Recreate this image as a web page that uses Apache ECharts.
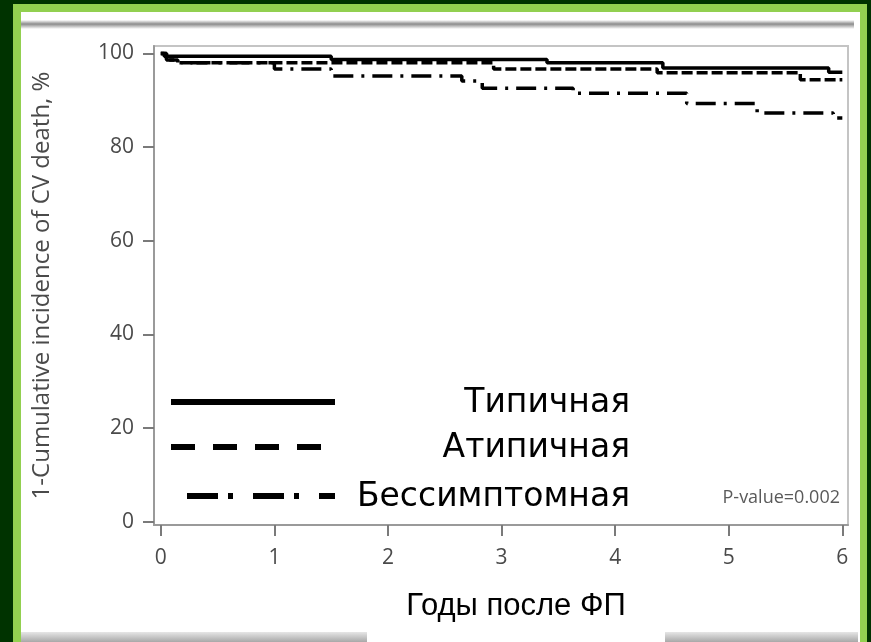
<!DOCTYPE html>
<html>
<head>
<meta charset="utf-8">
<script src="https://cdn.jsdelivr.net/npm/echarts@6/dist/echarts.min.js"></script>
<style>
  html, body { margin: 0; padding: 0; background: #003300; }
  #chart { width: 871px; height: 642px; }
</style>
</head>
<body>
<div id="chart"></div>
<script>
// ticks
const xTicks = [0, 1, 2, 3, 4, 5, 6];
const yTicks = [0, 20, 40, 60, 80, 100];

// Kaplan-Meier steps (years, %)
const typTime = [0, 0.03, 1.5, 3.4, 4.42, 5.88, 6.0];
const typSurv = [100, 99.4, 98.7, 98.0, 96.9, 96.0, 96.0];
const atypTime = [0, 0.05, 0.15, 2.93, 4.37, 5.63, 6.0];
const atypSurv = [100, 98.6, 98.0, 96.7, 95.9, 94.4, 94.4];
const asymTime = [0, 0.05, 0.15, 1.0, 1.5, 2.65, 2.83, 3.63, 4.63, 5.25, 5.92, 6.0];
const asymSurv = [100, 98.6, 98.0, 96.7, 95.2, 94.1, 92.6, 91.5, 89.3, 87.3, 86.2, 86.2];

const groupNames = ["Типичная", "Атипичная", "Бессимптомная"];

function pairs(t, s) {
  return t.map((v, i) => [v, s[i]]);
}

const chart = echarts.init(document.getElementById("chart"));

const labelFont = "Open Sans";
const legendFont = "DejaVu Sans";

let option = {
  backgroundColor: "#003300",
  animation: false,
  grid: {
    left: 154,
    right: 23,
    top: 46,
    bottom: 117,
    show: true,
    borderColor: "#c4c4c4",
    borderWidth: 2,
    backgroundColor: "transparent"
  },
  xAxis: {
    type: "value",
    min: -0.06,
    max: 6.05,
    axisLine: { show: true, onZero: false, lineStyle: { color: "#9a9a9a", width: 2 } },
    axisTick: { show: true, customValues: xTicks, length: 11, lineStyle: { color: "#7a7a7a", width: 2 } },
    axisLabel: { customValues: xTicks, margin: 23, color: "#4a4a4a", fontSize: 21, fontFamily: labelFont },
    splitLine: { show: false }
  },
  yAxis: {
    type: "value",
    min: -0.7,
    max: 101.6,
    name: "1-Cumulative incidence of CV death, %",
    nameLocation: "middle",
    nameGap: 100,
    nameTextStyle: { color: "#4a4a4a", fontSize: 24, fontFamily: labelFont },
    axisLine: { show: true, onZero: false, lineStyle: { color: "#9a9a9a", width: 2 } },
    axisTick: { show: true, customValues: yTicks, length: 11, lineStyle: { color: "#7a7a7a", width: 2 } },
    axisLabel: { customValues: yTicks, margin: 20, color: "#4a4a4a", fontSize: 21, fontFamily: labelFont },
    splitLine: { show: false }
  },
  series: [
    {
      name: groupNames[0],
      type: "line",
      step: "end",
      showSymbol: false,
      lineStyle: { color: "#000", width: 3.5, type: "solid" },
      data: pairs(typTime, typSurv)
    },
    {
      name: groupNames[1],
      type: "line",
      step: "end",
      showSymbol: false,
      lineStyle: { color: "#000", width: 3.5, type: [11, 4] },
      data: pairs(atypTime, atypSurv)
    },
    {
      name: groupNames[2],
      type: "line",
      step: "end",
      showSymbol: false,
      lineStyle: { color: "#000", width: 3.5, type: [20, 8, 3, 8] },
      data: pairs(asymTime, asymSurv)
    }
  ],
  graphic: [
    // frame: light green border and white page
    { type: "rect", z: -20, shape: { x: 13, y: 4, width: 854, height: 638 }, style: { fill: "#92d050" } },
    { type: "rect", z: -19, shape: { x: 21, y: 12, width: 839, height: 630 }, style: { fill: "#fff" } },
    {
      type: "rect", z: -18, shape: { x: 21, y: 20, width: 833, height: 9 },
      style: {
        fill: new echarts.graphic.LinearGradient(0, 0, 0, 1, [
          { offset: 0, color: "#ffffff" },
          { offset: 0.45, color: "#8c8c8c" },
          { offset: 1, color: "#ffffff" }
        ])
      }
    },
    {
      type: "rect", z: -18, shape: { x: 21, y: 632, width: 837, height: 10 },
      style: {
        fill: new echarts.graphic.LinearGradient(0, 0, 0, 1, [
          { offset: 0, color: "#e6e6e6" },
          { offset: 1, color: "#a8a8a8" }
        ])
      }
    },
    // white box behind the x caption
    { type: "rect", z: 5, shape: { x: 367, y: 588, width: 298, height: 54 }, style: { fill: "#fff" } },
    {
      type: "text", z: 6, x: 516, y: 606,
      style: { text: "Годы после ФП", fill: "#000", font: "31px 'Liberation Sans'", textAlign: "center", textVerticalAlign: "middle" }
    },
    // legend box
    { type: "rect", z: 5, shape: { x: 157, y: 372, width: 491, height: 148 }, style: { fill: "#fff" } },
    { type: "line", z: 6, shape: { x1: 171, y1: 402, x2: 335, y2: 402 }, style: { stroke: "#000", lineWidth: 6 } },
    { type: "line", z: 6, shape: { x1: 171, y1: 447, x2: 322, y2: 447 }, style: { stroke: "#000", lineWidth: 6, lineDash: [24, 18] } },
    { type: "line", z: 6, shape: { x1: 187, y1: 496, x2: 335, y2: 496 }, style: { stroke: "#000", lineWidth: 6, lineDash: [31, 10, 5, 20] } },
    {
      type: "text", z: 6, x: 630, y: 403,
      style: { text: groupNames[0], fill: "#000", font: "33px '" + legendFont + "'", textAlign: "right", textVerticalAlign: "middle" }
    },
    {
      type: "text", z: 6, x: 630, y: 448,
      style: { text: groupNames[1], fill: "#000", font: "33px '" + legendFont + "'", textAlign: "right", textVerticalAlign: "middle" }
    },
    {
      type: "text", z: 6, x: 630, y: 497,
      style: { text: groupNames[2], fill: "#000", font: "33px '" + legendFont + "'", textAlign: "right", textVerticalAlign: "middle" }
    },
    {
      type: "text", z: 6, x: 840, y: 498,
      style: { text: "P-value=0.002", fill: "#5a5a5a", font: "18px 'Open Sans'", textAlign: "right", textVerticalAlign: "middle" }
    }
  ]
};

chart.setOption(option);
window.addEventListener("resize", function () {
  chart.resize();
});
</script>
</body>
</html>
